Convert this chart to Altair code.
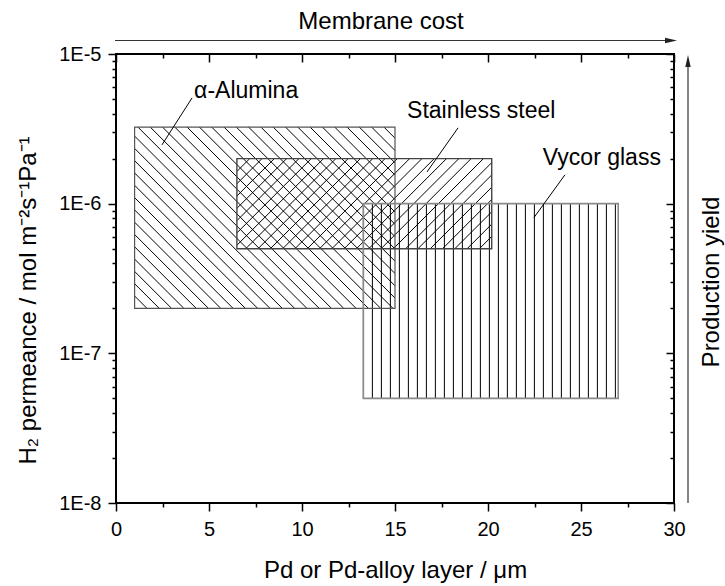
import math
import pandas as pd
import altair as alt

# Operating windows of Pd-based membranes on different supports
supports = ["α-Alumina", "Stainless steel", "Vycor glass"]
layer_min = [1.0, 6.5, 13.3]        # µm
layer_max = [15.0, 20.2, 27.0]      # µm
perm_min = [2.0e-7, 5.0e-7, 5.0e-8] # mol m-2 s-1 Pa-1
perm_max = [3.25e-6, 2.0e-6, 1.0e-6]
hatch_kind = ["back", "fwd", "vert"]
hatch_step = [12.3, 12.3, 9.0]      # spacing of hatch lines, px

# Label anchors and leader lines (data coordinates)
label_x = [4.2, 15.65, 22.95]
label_y = [5.1e-6, 3.75e-6, 1.82e-6]
lead_x0 = [4.09, 18.39, 24.14]
lead_y0 = [5.09e-6, 3.21e-6, 1.56e-6]
lead_x1 = [2.47, 16.72, 22.47]
lead_y1 = [2.47e-6, 1.63e-6, 8.07e-7]

# Axis ticks
x_major = [0, 5, 10, 15, 20, 25, 30]
x_minor = [2.5, 7.5, 12.5, 17.5, 22.5, 27.5]
y_major = [1e-8, 1e-7, 1e-6, 1e-5]
y_minor = [k * 10.0 ** e for e in (-8, -7, -6) for k in range(2, 10)]

X_DOM = [0, 30]
Y_DOM = [1e-8, 1e-5]
W, H = 558, 449
PX = W / (X_DOM[1] - X_DOM[0])
PY = H / (math.log10(Y_DOM[1]) - math.log10(Y_DOM[0]))
FONT = "Liberation Sans"


def to_px(x, y):
    return x * PX, (math.log10(y) - math.log10(Y_DOM[0])) * PY


def to_data(u, v):
    return u / PX, 10 ** (v / PY + math.log10(Y_DOM[0]))


def hatch_lines(name, x0, x1, y0, y1, kind, step):
    u0, v0 = to_px(x0, y0)
    u1, v1 = to_px(x1, y1)
    segs = []
    if kind == "vert":
        u = u0
        while u <= u1 + 0.01:
            segs.append((u, v0, u, v1))
            u += step
    elif kind == "back":          # v = c - u
        c = u0 + v0 + step
        while c < u1 + v1:
            lo, hi = max(u0, c - v1), min(u1, c - v0)
            if hi - lo > 0.5:
                segs.append((lo, c - lo, hi, c - hi))
            c += step
    else:                          # v = u + c
        c = v0 - u1 + step
        while c < v1 - u0:
            lo, hi = max(u0, v0 - c), min(u1, v1 - c)
            if hi - lo > 0.5:
                segs.append((lo, lo + c, hi, hi + c))
            c += step
    rows = []
    for a, b, c_, d in segs:
        xa, ya = to_data(a, b)
        xb, yb = to_data(c_, d)
        rows.append({"support": name, "x": xa, "y": ya, "x2": xb, "y2": yb})
    return rows


hatch_rows = []
for i, s in enumerate(supports):
    hatch_rows += hatch_lines(s, layer_min[i], layer_max[i], perm_min[i],
                              perm_max[i], hatch_kind[i], hatch_step[i])
hatch_df = pd.DataFrame(hatch_rows)

box_df = pd.DataFrame({
    "support": supports, "x0": layer_min, "x1": layer_max,
    "y0": perm_min, "y1": perm_max,
})
lab_df = pd.DataFrame({
    "support": supports, "lx": label_x, "ly": label_y,
    "ax": lead_x0, "ay": lead_y0, "bx": lead_x1, "by": lead_y1,
})

xs = alt.Scale(domain=X_DOM, nice=False, zero=False)
ys = alt.Scale(type="log", domain=Y_DOM, nice=False)

is_decade = "abs(log(datum.value)/LN10 - round(log(datum.value)/LN10)) < 0.001"
x_tick_size = {"condition": {"test": "datum.value % 5 == 0", "value": 8}, "value": 4}
y_tick_size = {"condition": {"test": is_decade, "value": 8}, "value": 4}

x_axis = alt.Axis(
    orient="bottom",
    values=x_major + x_minor, labelExpr="datum.value % 5 == 0 ? datum.label : ''",
    tickSize=x_tick_size, tickWidth=1.5, tickColor="black", domain=False, grid=False,
    labelFont=FONT, labelFontSize=20, labelColor="black", labelPadding=8,
    labelFlush=False, labelOverlap=False,
    title="Pd or Pd-alloy layer / μm", titleFont=FONT, titleFontSize=24,
    titleFontWeight="normal", titleColor="black", titleX=W / 2, titleY=74,
    titleAlign="center", titleBaseline="alphabetic",
)
y_axis = alt.Axis(
    orient="left",
    values=y_major + y_minor,
    labelExpr=is_decade + " ? '1E' + round(log(datum.value)/LN10) : ''",
    tickSize=y_tick_size, tickWidth=1.5, tickColor="black", domain=False, grid=False,
    labelFont=FONT, labelFontSize=20, labelColor="black", labelPadding=7,
    labelOverlap=False, labelFlush=False,
    title="H₂ permeance / mol m⁻²s⁻¹Pa⁻¹", titleFont=FONT, titleFontSize=24,
    titleFontWeight="normal", titleColor="black", titleAngle=270,
    titleX=-81, titleY=246, titleAlign="center", titleBaseline="alphabetic",
)
# inward ticks on the top and right edges of the frame
x_mirror = alt.Axis(
    values=x_major + x_minor, orient="bottom", offset=-H, labels=False, title=None,
    tickSize=x_tick_size, tickWidth=1.5, tickColor="black", domain=False, grid=False,
)
y_mirror = alt.Axis(
    values=y_major + y_minor, orient="left", offset=-W, labels=False, title=None,
    tickSize=y_tick_size, tickWidth=1.5, tickColor="black", domain=False, grid=False,
)

hatch = alt.Chart(hatch_df).mark_rule(color="black", strokeWidth=1).encode(
    x=alt.X("x:Q", scale=xs, axis=x_mirror),
    y=alt.Y("y:Q", scale=ys, axis=y_mirror),
    x2="x2:Q", y2="y2:Q",
)

boxes = alt.Chart(box_df).mark_rect(fill=None, fillOpacity=0).encode(
    x=alt.X("x0:Q", scale=xs, axis=x_axis),
    x2="x1:Q",
    y=alt.Y("y0:Q", scale=ys, axis=y_axis),
    y2="y1:Q",
    stroke=alt.Stroke("support:N", legend=None,
                      scale=alt.Scale(domain=supports, range=["#555555", "#444444", "#8a8a8a"])),
    strokeDash=alt.StrokeDash("support:N", legend=None,
                              scale=alt.Scale(domain=supports, range=[[2, 2], [1, 0], [1.5, 1.5]])),
    strokeWidth=alt.StrokeWidth("support:N", legend=None,
                                scale=alt.Scale(domain=supports, range=[1.2, 1.6, 1.3])),
)

leaders = alt.Chart(lab_df).mark_rule(color="black", strokeWidth=1).encode(
    x=alt.X("ax:Q", scale=xs, axis=None), y=alt.Y("ay:Q", scale=ys, axis=None),
    x2="bx:Q", y2="by:Q",
)
labels = alt.Chart(lab_df).mark_text(
    align="left", baseline="alphabetic", font=FONT, fontSize=23, color="black",
).encode(
    x=alt.X("lx:Q", scale=xs, axis=None), y=alt.Y("ly:Q", scale=ys, axis=None),
    text="support:N",
)

# trend arrows outside the frame
notes = pd.DataFrame({"t": ["Membrane cost", "Production yield"]})
cost_text = alt.Chart(notes).transform_filter("datum.t == 'Membrane cost'").mark_text(
    align="center", baseline="alphabetic", font=FONT, fontSize=24, color="black",
).encode(text="t:N", x=alt.value(265), y=alt.value(-25))
yield_text = alt.Chart(notes).transform_filter("datum.t == 'Production yield'").mark_text(
    align="center", baseline="alphabetic", font=FONT, fontSize=24, color="black", angle=270,
).encode(text="t:N", x=alt.value(603), y=alt.value(228))

cost_line = alt.Chart(notes).transform_filter("datum.t == 'Membrane cost'").mark_rule(
    color="#333333", strokeWidth=1.2,
).encode(x=alt.value(-1), x2=alt.value(553), y=alt.value(-13.5))
cost_head = alt.Chart(notes).transform_filter("datum.t == 'Membrane cost'").mark_point(
    shape="M-1,-0.45L1,0L-1,0.45Z", filled=True, size=144, color="#222222", opacity=1,
).encode(x=alt.value(555), y=alt.value(-13.5))
yield_line = alt.Chart(notes).transform_filter("datum.t == 'Production yield'").mark_rule(
    color="#333333", strokeWidth=1.2,
).encode(x=alt.value(572), y=alt.value(449), y2=alt.value(10))
yield_head = alt.Chart(notes).transform_filter("datum.t == 'Production yield'").mark_point(
    shape="M-0.45,1L0,-1L0.45,1Z", filled=True, size=144, color="#222222", opacity=1,
).encode(x=alt.value(572), y=alt.value(7))

chart = alt.layer(
    hatch, boxes, leaders, labels,
    cost_line, cost_head, cost_text, yield_line, yield_head, yield_text,
).resolve_axis(x="independent", y="independent").properties(
    width=W, height=H,
    autosize=alt.AutoSizeParams(type="none"),
    padding={"left": 116, "top": 54, "right": 51, "bottom": 83},
).configure(background="white").configure_view(stroke="black", strokeWidth=2)

chart.save("out.html", embed_options={"renderer": "svg", "actions": False})
